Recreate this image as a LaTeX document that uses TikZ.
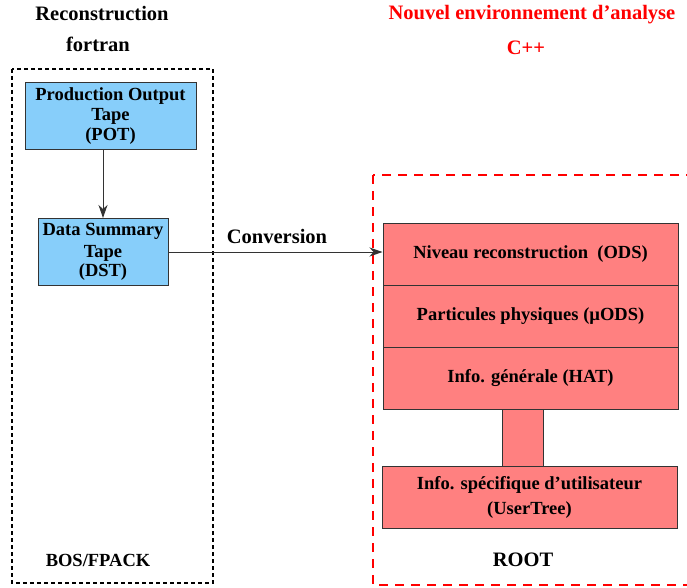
\documentclass[tikz,border=0pt]{standalone}
\usepackage{fontspec}
\setmainfont{Liberation Serif}
\usetikzlibrary{arrows.meta}
\definecolor{tapeblue}{HTML}{87CEFA}
\definecolor{rootred}{HTML}{FF8080}
\definecolor{edgegray}{HTML}{333333}
\tikzset{
	tapebox/.style={draw=edgegray,line width=1pt,fill=tapeblue,align=center,inner sep=0pt,
		font=\fontsize{18.5}{20}\selectfont\bfseries},
	layerbox/.style={draw=edgegray,line width=1pt,fill=rootred,align=center,inner sep=0pt,
		minimum width=295pt,minimum height=62pt,font=\fontsize{18.5}{25}\selectfont\bfseries},
	heading/.style={anchor=base,inner sep=0pt,font=\fontsize{20.5}{22}\selectfont\bfseries},
	flow/.style={draw=edgegray,line width=1pt,-{Stealth[length=13pt,width=9pt,inset=4pt]}}
}
\begin{document}
\begin{tikzpicture}[x=1pt,y=-1pt]
	\useasboundingbox (0,0) rectangle (687,588);
	\clip (0,0) rectangle (687,588);
	
	%headings above the two frames
	\node[heading] (recon) at (102,21) {Reconstruction};
	\node[heading] (fortran) at (98,52) {fortran};
	\node[heading,text=red] (nouvel) at (532,20) {Nouvel environnement d’analyse};
	\node[heading,text=red] (cpp) at (526,55) {C++};
	
	%frames
	\draw[line width=2pt,dash pattern=on 4pt off 3pt] (12,69) rectangle (213,583);
	\draw[red,line width=2pt,dash pattern=on 9pt off 7pt] (373,175) rectangle (700,585);
	
	%fortran side
	\node[tapebox,minimum width=171pt,minimum height=67pt,text depth=5pt] (pot) at (110.5,116.5)
		{Production Output\\Tape\\(POT)};
	\node[tapebox,minimum width=130pt,minimum height=67pt] (dst) at (103,252)
		{Data Summary\\[2pt]Tape\\[-1pt](DST)};
	\node[heading,font=\fontsize{18.5}{20}\selectfont\bfseries] (bos) at (98,566) {BOS/FPACK};
	
	%ROOT side
	\node[layerbox] (ods) at (530.5,254) {Niveau reconstruction\ \ (ODS)};
	\node[layerbox] (muods) at (530.5,316) {Particules physiques (µODS)};
	\node[layerbox] (hat) at (530.5,378) {Info. générale (HAT)};
	\node[layerbox,minimum width=41pt,minimum height=57pt] (link) at (522.5,437.5) {};
	\node[layerbox] (usertree) at (529.5,497) {Info. spécifique d’utilisateur\\(UserTree)};
	\node[heading] (root) at (523,566) {ROOT};
	
	%connectors
	\draw[flow] (pot.south -| dst.north) -- (dst.north);
	\draw[flow] (dst.east) -- (dst.east -| ods.west);
	\node[heading] (conv) at (277,243) {Conversion};
\end{tikzpicture}
\end{document}
